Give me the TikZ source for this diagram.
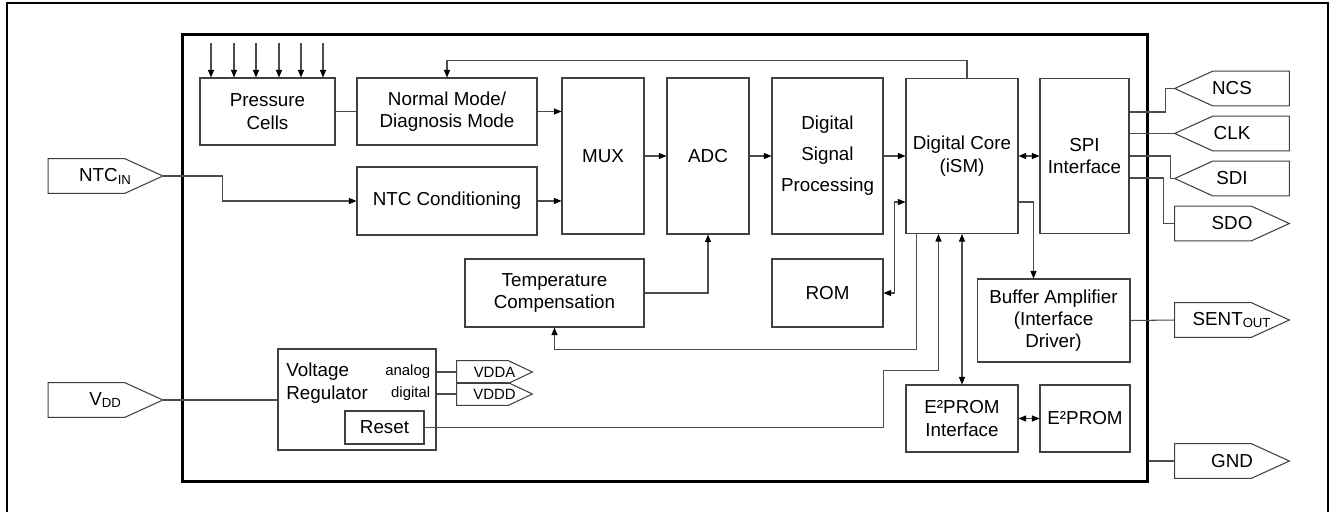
\documentclass[tikz,border=0pt]{standalone}
\usepackage{fontspec}
\setmainfont{Liberation Sans}
\usetikzlibrary{positioning, arrows.meta, calc}

\begin{document}
\begin{tikzpicture}[
    % Global Styles (one unit = one pixel of the sheet, y runs down)
    x=0.02cm, y=-0.02cm,
    font=\fontsize{10.7}{12.7}\selectfont,
    >={Triangle[length=1.5mm, width=1.2mm, color=black]},
    % Wires between blocks
    wire/.style={draw=black!70, line width=0.6pt},
    % The Block Style
    blk/.style={draw=black!75, fill=white, align=center, inner sep=1pt, line width=0.6pt},
    % The chip outline
    chipbox/.style={draw=black, line width=1.7pt, inner sep=0pt},
    % External pins: box with the point on the east or on the west side
    iopin/.style={minimum width=2.28cm, minimum height=0.68cm, inner sep=0pt},
    pointeast/.style={append after command={\pgfextra{
        \draw[black!75, line width=0.6pt] (\tikzlastnode.north west)
            -- ($(\tikzlastnode.north east)+(-#1,0)$) -- (\tikzlastnode.east)
            -- ($(\tikzlastnode.south east)+(-#1,0)$) -- (\tikzlastnode.south west) -- cycle;}}},
    pointeast/.default=38,
    pointwest/.style={append after command={\pgfextra{
        \draw[black!75, line width=0.6pt] (\tikzlastnode.north east)
            -- ($(\tikzlastnode.north west)+(#1,0)$) -- (\tikzlastnode.west)
            -- ($(\tikzlastnode.south west)+(#1,0)$) -- (\tikzlastnode.south east) -- cycle;}}},
    pointwest/.default=38,
    smalltxt/.style={font=\fontsize{8.5}{10}\selectfont, inner sep=0pt}
]
    \useasboundingbox (0,0) rectangle (1332,512);

    % --- Sheet frame ---
    \draw[line width=0.8pt] (7,512) -- (7,3) -- (1328,3) -- (1328,512);

    % --- Chip outline ---
    \node[chipbox, minimum width=19.32cm, minimum height=8.96cm] (chip) at (665,258) {};

    % --- Signal chain (top row) ---
    \node[blk, minimum width=2.7cm, minimum height=1.34cm] (pc) at (267.5,111.5) {Pressure\\Cells};
    \node[blk, minimum width=3.6cm, minimum height=1.34cm] (nmode) at (447,111.5) {Normal Mode/\\Diagnosis Mode};
    \node[blk, minimum width=3.6cm, minimum height=1.36cm] (ntcc) at (447,201) {NTC Conditioning};
    \node[blk, minimum width=1.64cm, minimum height=3.12cm] (mux) at (603,156) {MUX};
    \node[blk, minimum width=1.64cm, minimum height=3.12cm] (adc) at (708,156) {ADC};
    \node[blk, minimum width=2.22cm, minimum height=3.12cm] (dsp) at (827.5,156) {Digital\\[5pt]Signal\\[5pt]Processing};
    \node[blk, minimum width=2.24cm, minimum height=3.1cm] (core) at (962,156) {Digital Core\\(iSM)};
    \node[blk, minimum width=1.78cm, minimum height=3.1cm] (spi) at (1084.5,156) {SPI\\Interface};

    % --- Lower blocks ---
    \node[blk, minimum width=3.58cm, minimum height=1.36cm] (tcomp) at (554.5,293) {Temperature\\Compensation};
    \node[blk, minimum width=2.22cm, minimum height=1.36cm] (rom) at (827.5,293) {ROM};
    \node[blk, minimum width=3.06cm, minimum height=1.66cm] (buf) at (1053.5,320.5) {Buffer Amplifier\\(Interface\\Driver)};
    \node[blk, minimum width=2.24cm, minimum height=1.34cm] (eei) at (962,418.5) {E²PROM\\Interface};
    \node[blk, minimum width=1.8cm, minimum height=1.34cm] (ee) at (1085,418.5) {E²PROM};

    % --- Voltage regulator ---
    \node[blk, minimum width=3.16cm, minimum height=2.02cm] (vreg) at (357,399.5) {};
    \node[anchor=west, align=left, inner sep=0pt] (vregtxt) at (286,383) {Voltage\\Regulator};
    \node[blk, minimum width=1.58cm, minimum height=0.66cm] (reset) at (384.5,427.5) {Reset};
    \node[iopin, pointeast=24, smalltxt, minimum width=1.5cm, minimum height=0.44cm] (vdda) at (494.5,372) {VDDA\hspace{8pt}};
    \node[iopin, pointeast=24, smalltxt, minimum width=1.5cm, minimum height=0.44cm] (vddd) at (494.5,394) {VDDD\hspace{8pt}};
    \node[smalltxt, anchor=east] (alab) at ($(vreg.east |- vdda.west)+(-6,0)$) {analog};
    \node[smalltxt, anchor=east] (dlab) at ($(vreg.east |- vddd.west)+(-6,0)$) {digital};

    % --- External pins ---
    \node[iopin, pointeast] (ntcin) at (105.5,176) {NTC\textsubscript{IN}};
    \node[iopin, pointeast] (vdd) at (105.5,400) {V\textsubscript{DD}};
    \node[iopin, pointwest] (ncs) at (1232,88.5) {NCS};
    \node[iopin, pointwest] (clk) at (1232,133.5) {CLK};
    \node[iopin, pointwest] (sdi) at (1232,178.5) {SDI};
    \node[iopin, pointeast] (sdo) at (1232,223.5) {SDO};
    \node[iopin, pointeast] (sent) at (1232,320) {SENT\textsubscript{OUT}};
    \node[iopin, pointeast] (gnd) at (1232,461) {GND};

    % --- Wires: sensor path ---
    \foreach \x in {211,234,256,279,301,323}
        \draw[wire, ->] (\x,43) -- (\x,0 |- pc.north);
    \draw[wire] (pc) -- (nmode);
    \draw[wire, ->] (ntcin.east) -- ++(60,0) |- (ntcc.west);
    \draw[wire, ->] (nmode) -- (mux.west |- nmode);
    \draw[wire, ->] (ntcc) -- (mux.west |- ntcc);
    \draw[wire, ->] (mux) -- (adc);
    \draw[wire, ->] (adc) -- (dsp);
    \draw[wire, ->] (dsp) -- (core);
    \draw[wire, <->] (core) -- (spi);
    \draw[wire, ->] ($(core.north)+(5,0)$) |- ($(nmode.north)+(0,-17)$) -- (nmode.north);

    % --- Wires: SPI pins ---
    \draw[wire] ($(spi.north east)+(0,34)$) -- ++(36,0) |- (ncs.west);
    \draw[wire] (spi.east |- clk.west) -- (clk.west);
    \draw[wire] (spi.east) -- ++(41,0) |- (sdi.west);
    \draw[wire] ($(spi.north east)+(0,100)$) -- ++(34,0) |- (sdo.west);

    % --- Wires: lower part ---
    \draw[wire, ->] (tcomp.east) -| (adc.south);
    \draw[wire, <->] (rom.east) -- ++(11,0) |- ($(core.south west)+(0,-32)$);
    \draw[wire, ->] ($(core.south west)+(11,0)$) |- ($(tcomp.south)+(0,22)$) -- (tcomp.south);
    \draw[wire, ->] (reset.east) -- ++(459,0) -- ++(0,-57) -| ($(core.south west)+(33,0)$);
    \draw[wire, <->] (core.south) -- (eei.north);
    \draw[wire, ->] ($(core.south east)+(0,-32)$) -| ($(buf.north)+(-20,0)$);
    \draw[wire, <->] (eei) -- (ee);
    \draw[wire] (buf.east) -- (sent.west);
    \draw[wire] (chip.east |- gnd.west) -- (gnd.west);

    % --- Wires: supply ---
    \draw[wire] (vdd.east) -- (vreg.west |- vdd.east);
    \draw[wire] (vreg.east |- vdda.west) -- (vdda.west);
    \draw[wire] (vreg.east |- vddd.west) -- (vddd.west);

\end{tikzpicture}
\end{document}
